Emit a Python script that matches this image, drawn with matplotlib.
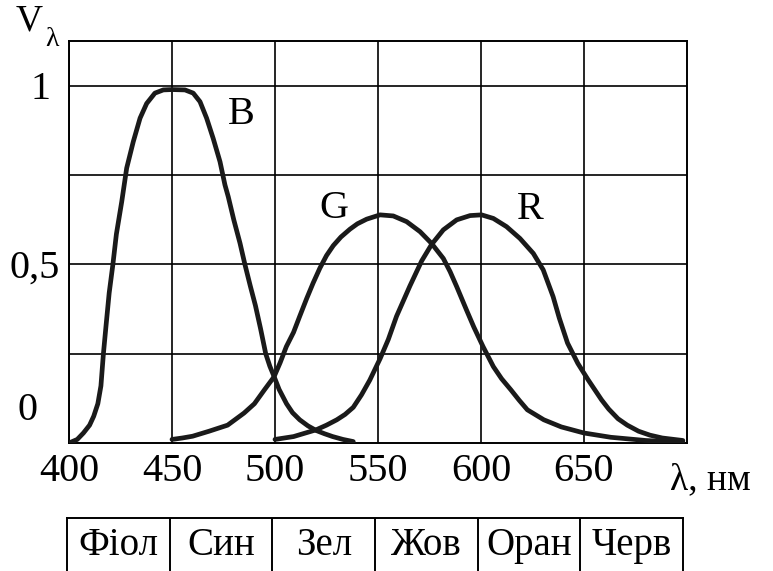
import matplotlib
matplotlib.use("Agg")
import matplotlib.pyplot as plt

plt.rcParams['font.family'] = ['Liberation Serif', 'DejaVu Serif']

# relative sensitivity curves
b_wl = [400, 404, 407, 410, 412, 414, 415.5, 416.7, 418, 419.5,
        421.3, 423, 425.6, 428, 431.2, 434.5, 437.7, 441.7, 445.8, 450,
        456.3, 460.3, 463.6, 466.8, 470, 473.3, 475.7, 477.3, 480, 483,
        485.4, 488, 490.5, 493, 495.5, 497.5, 499.5, 502, 505.6, 508.5,
        512, 516, 520, 524, 528, 533, 538]
b_val = [0.0, 0.01, 0.028, 0.05, 0.075, 0.11, 0.16, 0.25, 0.33, 0.42,
         0.5, 0.585, 0.676, 0.77, 0.844, 0.91, 0.951, 0.98, 0.989, 0.99,
         0.989, 0.98, 0.956, 0.91, 0.853, 0.788, 0.723, 0.69, 0.625, 0.56,
         0.5, 0.44, 0.385, 0.32, 0.25, 0.215, 0.187, 0.15, 0.11, 0.085,
         0.065, 0.048, 0.035, 0.026, 0.018, 0.01, 0.004]

g_wl = [450, 455, 460, 468, 477, 485, 490, 495, 499.5, 502.5,
        505.5, 509, 512, 515.4, 518.5, 521.8, 525, 528.3, 532, 536.4,
        540, 544.5, 551, 557.4, 563.9, 570.4, 576, 581.7, 585, 588.2,
        593, 596.5, 601, 606, 610, 614.5, 618.5, 622.5, 630.5, 639,
        650, 663, 680, 698]
g_val = [0.01, 0.014, 0.019, 0.033, 0.05, 0.084, 0.11, 0.15, 0.185, 0.225,
         0.27, 0.31, 0.355, 0.405, 0.448, 0.49, 0.525, 0.553, 0.577, 0.599,
         0.614, 0.627, 0.639, 0.636, 0.62, 0.592, 0.559, 0.517, 0.48, 0.438,
         0.372, 0.325, 0.27, 0.214, 0.18, 0.149, 0.12, 0.093, 0.065, 0.045,
         0.028, 0.016, 0.007, 0.002]

r_wl = [500, 509, 520, 525, 530, 534, 538, 542, 546, 551,
        555, 559, 565.5, 571.2, 576, 581.7, 588.2, 594.7, 600.3, 606,
        612.4, 618.9, 625.4, 630.2, 635, 638, 642, 647, 652, 658.5,
        662, 666.5, 671, 676.5, 682, 688, 698]
r_val = [0.01, 0.018, 0.037, 0.05, 0.065, 0.08, 0.10, 0.135, 0.176, 0.236,
         0.29, 0.355, 0.44, 0.51, 0.556, 0.597, 0.625, 0.637, 0.639, 0.629,
         0.606, 0.573, 0.531, 0.485, 0.41, 0.35, 0.28, 0.223, 0.177, 0.121,
         0.095, 0.068, 0.05, 0.033, 0.022, 0.014, 0.007]

x_ticks = [400, 450, 500, 550, 600, 650]
y_grid = [0.25, 0.5, 0.75, 1.0]
y_labels = ['1', '0,5', '0']
y_label_pos = [0.99, 0.49, 0.09]
color_names = ["Фіол", "Син", "Зел", "Жов", "Оран", "Черв"]

W, H = 773, 571
fig = plt.figure(figsize=(W / 100, H / 100), dpi=100)
ax = fig.add_axes([69 / W, (H - 443) / H, (687 - 69) / W, (443 - 41) / H])
ax.set_xlim(400, 700)
ax.set_ylim(0, 1.126)

ax.set_xticks(x_ticks)
ax.set_xticklabels([str(v) for v in x_ticks])
ax.set_yticks(y_grid)
ax.set_yticklabels([])
ax.tick_params(length=0, labelsize=29, pad=7)
ax.grid(True, color='black', lw=1.2)
for s in ax.spines.values():
    s.set_linewidth(1.4)

for wl, val in [(b_wl, b_val), (g_wl, g_val), (r_wl, r_val)]:
    ax.plot(wl, val, color='#1a1a1a', lw=3.4, solid_joinstyle='round',
            solid_capstyle='round', zorder=3)

fs = 29
ax.text(483.5, 0.92, 'B', fontsize=fs, ha='center', va='center')
ax.text(528.5, 0.658, 'G', fontsize=fs, ha='center', va='center')
ax.text(624, 0.653, 'R', fontsize=fs, ha='center', va='center')

y_label_x = [386, 383.5, 380]
for lab, xv, yv in zip(y_labels, y_label_x, y_label_pos):
    ax.text(xv, yv, lab, fontsize=29, ha='center', va='center', clip_on=False)

ax.text(29 / W, (H - 21) / H, 'V', fontsize=27, ha='center', va='center',
        transform=fig.transFigure)
ax.text(52 / W, (H - 40) / H, 'λ', fontsize=20, ha='center', va='center',
        transform=fig.transFigure)
ax.text(670 / W, (H - 480) / H, 'λ, нм', fontsize=27, ha='left', va='center',
        transform=fig.transFigure)

# colour name strip
tab = fig.add_axes([67 / W, -0.02, (683 - 67) / W, (H - 518) / H + 0.02])
tab.set_xlim(0, len(color_names))
tab.set_ylim(0, 1)
tab.set_xticks([])
tab.set_yticks([])
tab.spines['bottom'].set_visible(False)
for s in tab.spines.values():
    s.set_linewidth(1.4)
for i, name in enumerate(color_names):
    if i > 0:
        tab.axvline(i, color='black', lw=1.4)
    tab.text(i + 0.5, 0.58, name, fontsize=28, ha='center', va='center')

fig.savefig('out.png', dpi=100)
